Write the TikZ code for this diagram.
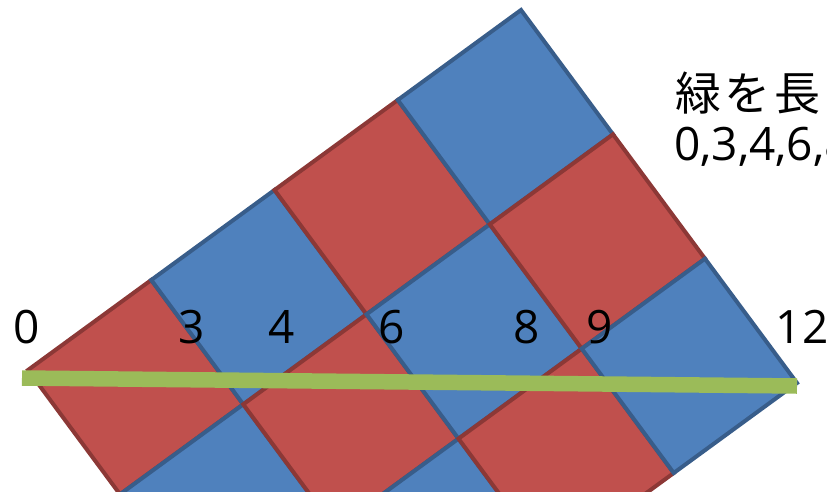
\documentclass[tikz,border=0pt]{standalone}
\usepackage{fontspec}
\usetikzlibrary{calc}
\setmainfont{Open Sans}
\newfontfamily\cjk[LetterSpace=8]{Noto Sans CJK JP}
\definecolor{redfill}{HTML}{C0504D}
\definecolor{redline}{HTML}{8C3836}
\definecolor{bluefill}{HTML}{4F81BD}
\definecolor{blueline}{HTML}{385D8A}
\definecolor{greenline}{HTML}{9BBB59}
\tikzset{
  redsq/.style={fill=redfill,draw=redline,line width=4pt,line join=miter},
  bluesq/.style={fill=bluefill,draw=blueline,line width=4pt,line join=miter},
  numlabel/.style={font=\fontsize{46}{55}\selectfont,anchor=base,inner sep=0pt},
  jptext/.style={font=\fontsize{46}{55}\selectfont\cjk,anchor=base west,inner sep=0pt},
  digtext/.style={font=\fontsize{46}{55}\selectfont,anchor=base west,inner sep=0pt},
  greenbar/.style={draw=greenline,line width=15.5pt,line cap=butt}
}
\begin{document}
\begin{tikzpicture}[x=1pt,y=-1pt]
\useasboundingbox (0,0) rectangle (827,491);
\clip (0,0) rectangle (827,491);
\coordinate (O) at (28,370);
\foreach \i in {0,...,3}{
  \foreach \j in {0,...,2}{
    \pgfmathtruncatemacro{\parity}{mod(\i+\j,2)}
    \ifnum\parity=0
      \def\sq{redsq}
    \else
      \def\sq{bluesq}
    \fi
    \draw[\sq] ($(O)+\i*(123.25,-90)+\j*(92,124.33)$)
      -- ++(123.25,-90) -- ++(92,124.33) -- ++(-123.25,90) -- cycle;
  }
}
\coordinate (gl) at (22,378);
\coordinate (gr) at (797,386);
\draw[greenbar] (gl) -- (gr);
\node[numlabel] (n0) at (27,343) {0};
\node[numlabel] (n3) at (192,343) {3};
\node[numlabel] (n4) at (282,343) {4};
\node[numlabel] (n6) at (392,343) {6};
\node[numlabel] (n8) at (527,343) {8};
\node[numlabel] (n9) at (600,343) {9};
\node[numlabel] (n12) at (802,343) {12};
\node[jptext] (t1) at (675,110) {緑を長さ};
\node[digtext] (t2) at (674,160) {0,3,4,6,8};
\end{tikzpicture}
\end{document}
